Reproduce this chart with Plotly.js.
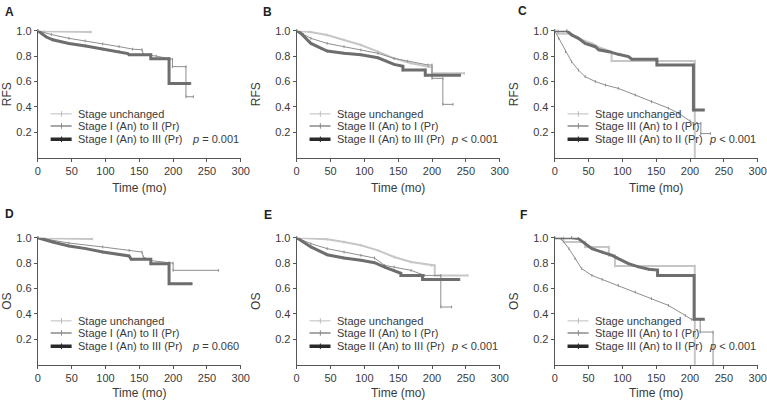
<!DOCTYPE html>
<html>
<head>
<meta charset="utf-8">
<script src="https://cdn.plot.ly/plotly-3.0.1.min.js"></script>
<style>
  html, body { margin: 0; padding: 0; background: #fff; }
  #chart { width: 767px; height: 400px; }
</style>
</head>
<body>
<div id="chart"></div>
<script>
// Kaplan-Meier estimates (time in months, survival fraction)

// A: RFS, stage I at diagnosis
const aUnchT = [0, 10, 79];
const aUnchS = [1.0, 0.995, 0.99];
const aToIIT = [0, 20, 46, 70, 96, 120, 140, 154, 156, 175, 194, 199, 199, 219, 219, 230];
const aToIIS = [1.0, 0.97, 0.94, 0.92, 0.895, 0.875, 0.855, 0.85, 0.814, 0.80, 0.78, 0.775, 0.717, 0.717, 0.48, 0.48];
const aToIIIT = [0, 12, 22, 46, 71, 96, 120, 133, 135, 167, 167, 194, 194, 226];
const aToIIIS = [1.0, 0.952, 0.928, 0.90, 0.88, 0.856, 0.835, 0.82, 0.81, 0.81, 0.78, 0.78, 0.585, 0.585];

// B: RFS, stage II at diagnosis
const bUnchT = [0, 20, 45, 70, 95, 120, 144, 169, 194, 200, 200, 248];
const bUnchS = [1.0, 0.99, 0.966, 0.927, 0.887, 0.835, 0.782, 0.743, 0.717, 0.71, 0.665, 0.665];
const bToIT = [0, 10, 21, 45, 70, 95, 120, 144, 164, 194, 200, 200, 216, 216, 231];
const bToIS = [1.0, 0.97, 0.94, 0.90, 0.874, 0.848, 0.822, 0.782, 0.76, 0.73, 0.73, 0.625, 0.625, 0.42, 0.42];
const bToIIIT = [0, 6, 21, 36, 45, 70, 95, 120, 134, 144, 157, 157, 190, 190, 242];
const bToIIIS = [1.0, 0.98, 0.90, 0.86, 0.84, 0.822, 0.81, 0.787, 0.756, 0.735, 0.72, 0.69, 0.69, 0.65, 0.65];

// C: RFS, stage III at diagnosis
const cUnchT = [0, 5, 5, 25, 40, 55, 65, 84, 84, 207, 207];
const cUnchS = [1.0, 1.0, 0.975, 0.975, 0.93, 0.90, 0.87, 0.835, 0.762, 0.762, 0];
const cToIT = [0, 6, 16, 25, 35, 45, 60, 75, 94, 119, 143, 168, 183, 200, 205, 216, 216, 230];
const cToIS = [1.0, 0.94, 0.835, 0.756, 0.69, 0.638, 0.60, 0.572, 0.546, 0.494, 0.441, 0.39, 0.35, 0.29, 0.27, 0.27, 0.19, 0.19];
const cToIIT = [0, 18, 25, 35, 45, 60, 65, 80, 94, 109, 114, 151, 151, 205, 205, 221];
const cToIIS = [1.0, 1.0, 0.966, 0.94, 0.90, 0.874, 0.85, 0.835, 0.814, 0.796, 0.775, 0.775, 0.73, 0.73, 0.376, 0.376];

// D: OS, stage I at diagnosis
const dUnchT = [0, 10, 81];
const dUnchS = [1.0, 0.995, 0.99];
const dToIIT = [0, 46, 96, 135, 154, 156, 167, 194, 200, 200, 267];
const dToIIS = [1.0, 0.958, 0.927, 0.90, 0.887, 0.848, 0.82, 0.803, 0.80, 0.743, 0.743];
const dToIIIT = [0, 22, 46, 71, 96, 120, 135, 138, 167, 167, 194, 194, 228];
const dToIIIS = [1.0, 0.966, 0.935, 0.914, 0.887, 0.867, 0.856, 0.83, 0.83, 0.795, 0.795, 0.638, 0.638];

// E: OS, stage II at diagnosis
const eUnchT = [0, 45, 70, 95, 120, 144, 169, 199, 204, 204, 253];
const eUnchS = [1.0, 0.987, 0.966, 0.94, 0.90, 0.848, 0.808, 0.782, 0.782, 0.703, 0.703];
const eToIT = [0, 21, 45, 70, 95, 115, 130, 144, 169, 189, 213, 213, 229];
const eToIS = [1.0, 0.953, 0.914, 0.887, 0.861, 0.84, 0.782, 0.77, 0.743, 0.703, 0.703, 0.454, 0.454];
const eToIIIT = [0, 21, 45, 70, 95, 115, 130, 144, 154, 154, 186, 186, 241];
const eToIIIS = [1.0, 0.927, 0.866, 0.84, 0.822, 0.803, 0.769, 0.743, 0.72, 0.703, 0.703, 0.67, 0.67];

// F: OS, stage III at diagnosis
const fUnchT = [0, 13, 13, 45, 45, 80, 80, 89, 89, 207, 207];
const fUnchS = [1.0, 1.0, 0.966, 0.966, 0.927, 0.927, 0.86, 0.86, 0.777, 0.777, 0];
const fToIT = [0, 10, 21, 30, 40, 55, 70, 94, 119, 143, 168, 193, 202, 215, 215, 234, 234];
const fToIS = [1.0, 0.99, 0.914, 0.835, 0.756, 0.703, 0.672, 0.625, 0.572, 0.52, 0.467, 0.388, 0.357, 0.357, 0.257, 0.257, 0];
const fToIIT = [0, 25, 35, 45, 55, 70, 85, 94, 109, 124, 139, 152, 152, 206, 206, 221];
const fToIIS = [1.0, 1.0, 0.993, 0.953, 0.914, 0.887, 0.861, 0.835, 0.796, 0.77, 0.751, 0.745, 0.703, 0.703, 0.357, 0.357];

const panelLetters = ['A', 'B', 'C', 'D', 'E', 'F'];
const yTitles = ['RFS', 'RFS', 'RFS', 'OS', 'OS', 'OS'];
const pValues = ['= 0.001', '< 0.001', '< 0.001', '= 0.060', '< 0.001', '< 0.001'];
const legendNames = [
    ['Stage unchanged', 'Stage I (An) to II (Pr)', 'Stage I (An) to III (Pr)'],
    ['Stage unchanged', 'Stage II (An) to I (Pr)', 'Stage II (An) to III (Pr)'],
    ['Stage unchanged', 'Stage III (An) to I (Pr)', 'Stage III (An) to II (Pr)']
];
const curves = [
    [[aUnchT, aUnchS], [aToIIT, aToIIS], [aToIIIT, aToIIIS]],
    [[bUnchT, bUnchS], [bToIT, bToIS], [bToIIIT, bToIIIS]],
    [[cUnchT, cUnchS], [cToIT, cToIS], [cToIIT, cToIIS]],
    [[dUnchT, dUnchS], [dToIIT, dToIIS], [dToIIIT, dToIIIS]],
    [[eUnchT, eUnchS], [eToIT, eToIS], [eToIIIT, eToIIIS]],
    [[fUnchT, fUnchS], [fToIT, fToIS], [fToIIT, fToIIS]]
];

// curve styles: unchanged / first change / second change
const curveColors = ['#c6c6c6', '#8e8e8e', '#6e6e6e'];
const curveWidths = [2, 1, 3];
const keyColors = ['#bdbdbd', '#8a8a8a', '#2a2a2a'];
const keyWidths = [1, 1.5, 3.5];
const keyRows = [0.345, 0.25, 0.145];

const colX = [[0.0493, 0.3139], [0.3868, 0.6515], [0.7232, 0.9879]];
const rowY = [[0.60575, 0.92325], [0.08825, 0.40575]];
const letterPos = [[3, 12], [261, 12], [516, 11], [3, 214], [262, 215], [518, 215]];

const axisFont = { family: 'Liberation Sans, Arial, sans-serif', size: 11, color: '#3a3a3a' };
const keyFont = { family: 'Liberation Sans Narrow, Liberation Sans, Arial, sans-serif', size: 11, color: '#3a3a3a' };

const traces = [];
const layout = {
    width: 767,
    height: 400,
    margin: { l: 0, r: 0, t: 0, b: 0 },
    paper_bgcolor: '#fff',
    plot_bgcolor: '#fff',
    showlegend: false,
    annotations: [],
    shapes: []
};

curves.forEach(function (panel, p) {
    const n = p === 0 ? '' : String(p + 1);
    const xa = 'x' + n, ya = 'y' + n;
    const col = p % 3, row = Math.floor(p / 3);

    panel.forEach(function (c, k) {
        traces.push({
            x: c[0],
            y: c[1],
            xaxis: xa,
            yaxis: ya,
            type: 'scatter',
            mode: 'lines+markers',
            cliponaxis: false,
            line: { color: curveColors[k], width: curveWidths[k], shape: 'linear' },
            marker: { symbol: 'line-ns', size: 2, line: { color: curveColors[k], width: 1 } },
            hoverinfo: 'skip'
        });
    });

    layout['xaxis' + n] = {
        domain: colX[col],
        anchor: ya,
        range: [0, 300],
        tickvals: [0, 50, 100, 150, 200, 250, 300],
        ticks: 'outside', ticklen: 3, tickcolor: '#555',
        showline: true, linecolor: '#555', linewidth: 1,
        showgrid: false, zeroline: false,
        tickfont: axisFont,
        title: { text: 'Time (mo)', font: { family: axisFont.family, size: 12, color: '#3a3a3a' }, standoff: 7 }
    };
    layout['yaxis' + n] = {
        domain: rowY[row],
        anchor: xa,
        range: [0, 1.0],
        tickvals: [0.2, 0.4, 0.6, 0.8, 1.0],
        ticktext: ['0.2', '0.4', '0.6', '0.8', '1.0'],
        ticks: 'outside', ticklen: 3, tickcolor: '#555',
        showline: true, linecolor: '#555', linewidth: 1,
        showgrid: false, zeroline: false,
        tickfont: axisFont,
        title: { text: yTitles[p], font: { family: axisFont.family, size: 12, color: '#3a3a3a' }, standoff: 11 }
    };

    // in-panel legend key
    legendNames[col].forEach(function (name, k) {
        layout.shapes.push({
            type: 'line', xref: xa, yref: ya,
            x0: 19, x1: 50, y0: keyRows[k], y1: keyRows[k],
            line: { color: keyColors[k], width: keyWidths[k] }
        });
        layout.shapes.push({
            type: 'line', xref: xa, yref: ya,
            x0: 35, x1: 35, y0: keyRows[k] - 0.022, y1: keyRows[k] + 0.022,
            line: { color: keyColors[k], width: 1 }
        });
        layout.annotations.push({
            xref: xa, yref: ya, x: 56, y: keyRows[k],
            xanchor: 'left', yanchor: 'middle', showarrow: false,
            text: name, font: keyFont
        });
    });

    layout.annotations.push({
        xref: xa, yref: ya, x: 300, y: keyRows[2],
        xanchor: 'right', yanchor: 'middle', showarrow: false,
        text: '<i>p</i> ' + pValues[p], font: keyFont
    });

    layout.annotations.push({
        xref: 'paper', yref: 'paper',
        x: letterPos[p][0] / 767, y: 1 - letterPos[p][1] / 400,
        xanchor: 'left', yanchor: 'middle', showarrow: false,
        text: '<b>' + panelLetters[p] + '</b>',
        font: { family: 'Liberation Sans, Arial, sans-serif', size: 12, color: '#222' }
    });
});

Plotly.newPlot('chart', traces, layout, { displayModeBar: false, staticPlot: true });
</script>
</body>
</html>
